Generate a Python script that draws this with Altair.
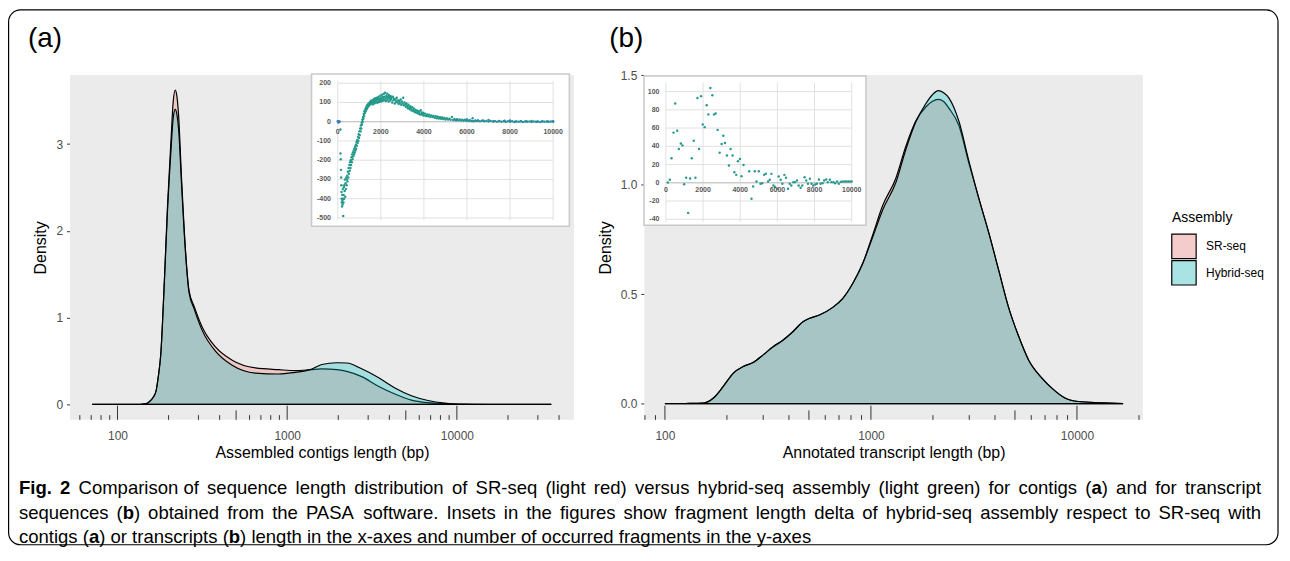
import altair as alt
import pandas as pd

# ---------------- data ----------------
ASSEMBLY = ["SR-seq", "Hybrid-seq"]
FILL = ["#F8766D", "#00BFC4"]
KEY_FILL = ["#F4CCCB", "#A9E3E3"]

# (a) density of assembled contig lengths
A_LEN = [71, 126, 148, 154, 162, 169, 174, 180, 189, 197, 207, 213, 219, 224, 229, 239, 251,
         264, 283, 316, 379, 474, 650, 891, 1117, 1368, 1600, 1959, 2244, 2748, 3443, 4315,
         5395, 6761, 8472, 10140, 15850, 36000]
A_SR = [0, 0, 0.01, 0.03, 0.08, 0.16, 0.32, 0.58, 1.43, 2.27, 3.07, 3.49, 3.62, 3.55, 3.34, 2.57,
        1.81, 1.31, 1.13, 0.89, 0.66, 0.51, 0.42, 0.40, 0.39, 0.40, 0.41, 0.40, 0.38, 0.32, 0.21,
        0.12, 0.05, 0.02, 0.008, 0.003, 0, 0]
A_HY = [0, 0, 0.01, 0.03, 0.08, 0.16, 0.32, 0.58, 1.42, 2.22, 2.95, 3.30, 3.40, 3.34, 3.18, 2.50,
        1.78, 1.29, 1.10, 0.85, 0.61, 0.45, 0.36, 0.35, 0.37, 0.40, 0.46, 0.48, 0.477, 0.41, 0.31,
        0.19, 0.10, 0.045, 0.015, 0.004, 0, 0]
A_XT = [100, 1000, 10000]
A_YT = [0, 1, 2, 3]
A_LOGT = [60, 70, 80, 90, 100, 200, 300, 400, 500, 600, 700, 800, 900, 1000, 2000, 3000, 4000,
          5000, 6000, 7000, 8000, 9000, 10000, 20000, 30000, 40000]

# (b) density of annotated transcript lengths
B_LEN = [100, 126, 154, 172, 192, 215, 240, 268, 300, 335, 374, 419, 468, 504, 562, 653, 729, 817,
         912, 1019, 1140, 1321, 1476, 1648, 1845, 1982, 2123, 2254, 2388, 2673, 2985, 3334, 3733,
         4169, 4656, 5200, 5821, 6761, 7551, 8750, 10140, 13150, 16750]
B_SR = [0, 0.001, 0.003, 0.026, 0.079, 0.14, 0.17, 0.188, 0.223, 0.26, 0.29, 0.33, 0.374, 0.39,
        0.405, 0.44, 0.48, 0.55, 0.64, 0.77, 0.905, 1.03, 1.175, 1.29, 1.355, 1.38, 1.39, 1.38,
        1.35, 1.27, 1.10, 0.94, 0.78, 0.61, 0.44, 0.31, 0.20, 0.117, 0.071, 0.026, 0.01, 0.004, 0]
B_HY = [0, 0.001, 0.003, 0.026, 0.079, 0.14, 0.17, 0.188, 0.223, 0.26, 0.29, 0.33, 0.374, 0.39,
        0.405, 0.44, 0.48, 0.55, 0.64, 0.76, 0.885, 1.01, 1.16, 1.285, 1.37, 1.41, 1.43, 1.42,
        1.397, 1.29, 1.11, 0.94, 0.78, 0.61, 0.44, 0.31, 0.20, 0.117, 0.071, 0.026, 0.01, 0.004, 0]
B_XT = [100, 1000, 10000]
B_YT = [0, 0.5, 1.0, 1.5]
B_LOGT = [80, 90, 100, 200, 300, 400, 500, 600, 700, 800, 900, 1000, 2000, 3000, 4000, 5000,
          6000, 7000, 8000, 9000, 10000, 20000]

# inset (a): fragment length delta (contigs)
IA_TEAL = [(123, -40), (128, -165), (140, -195), (150, -250), (160, -290), (170, -330), (175, -365),
           (180, -400), (190, -420), (200, -440), (210, -380), (215, -410), (225, -430), (235, -350),
           (245, -400), (255, -490), (265, -420), (275, -380), (285, -340), (295, -400), (305, -330),
           (320, -360), (335, -300), (350, -390), (365, -320), (380, -350), (395, -290), (410, -330),
           (425, -300), (440, -280), (455, -310), (470, -260), (490, -290), (505, -240), (520, -270),
           (540, -225), (555, -255), (570, -210), (590, -240), (605, -200), (620, -225), (640, -185),
           (655, -210), (670, -170), (690, -195), (705, -160), (720, -180), (740, -150), (755, -170),
           (770, -140), (790, -160), (805, -130), (820, -150), (840, -120), (855, -140), (870, -105),
           (890, -125), (905, -95), (920, -110), (940, -80), (955, -100), (970, -65), (990, -85),
           (1005, -50), (1020, -70), (1040, -35), (1060, -50), (1075, -20), (1090, -35), (1110, -5),
           (1125, -15), (1140, 10), (1160, 0), (1175, 25), (1190, 15), (1210, 40), (1225, 30),
           (1240, 55), (1260, 45), (1280, 65), (1300, 55), (1320, 75), (1340, 65), (1360, 85),
           (1380, 72), (1400, 90), (1420, 80), (1440, 95), (1460, 85), (1480, 100), (1500, 90),
           (1520, 105), (1540, 95), (1560, 110), (1580, 98), (1600, 105), (1620, 90), (1640, 112),
           (1660, 100), (1680, 118), (1700, 95), (1720, 108), (1740, 122), (1760, 100), (1780, 115),
           (1800, 105), (1820, 125), (1840, 98), (1860, 118), (1880, 110), (1900, 130), (1920, 102),
           (1940, 120), (1960, 112), (1980, 135), (2000, 105), (2020, 125), (2040, 115), (2060, 140),
           (2080, 108), (2100, 128), (2120, 118), (2140, 145), (2160, 112), (2180, 130), (2200, 150),
           (2220, 120), (2240, 108), (2260, 135), (2280, 125), (2300, 145), (2320, 115), (2340, 130),
           (2360, 105), (2380, 138), (2400, 120), (2420, 128), (2440, 110), (2460, 132), (2480, 118),
           (2500, 125), (2530, 100), (2560, 130), (2590, 112), (2620, 120), (2650, 95), (2680, 115),
           (2710, 105), (2740, 125), (2770, 100), (2800, 110), (2830, 92), (2860, 108), (2890, 98),
           (2920, 115), (2950, 88), (2980, 105), (3010, 95), (3040, 125), (3070, 85), (3100, 100),
           (3130, 90), (3160, 78), (3190, 95), (3220, 82), (3250, 70), (3280, 88), (3310, 75),
           (3340, 65), (3370, 80), (3400, 70), (3430, 58), (3460, 75), (3490, 62), (3520, 55),
           (3550, 68), (3580, 50), (3610, 60), (3640, 48), (3670, 58), (3700, 45), (3730, 55),
           (3760, 42), (3790, 52), (3820, 38), (3850, 60), (3880, 40), (3910, 48), (3940, 35),
           (3970, 45), (4000, 32), (4050, 42), (4100, 30), (4150, 38), (4200, 28), (4250, 36),
           (4300, 25), (4350, 33), (4400, 24), (4450, 30), (4500, 20), (4550, 28), (4600, 18),
           (4650, 26), (4700, 17), (4750, 24), (4800, 15), (4850, 22), (4900, 14), (4950, 20),
           (5000, 12), (5060, 18), (5120, 11), (5180, 16), (5240, 10), (5300, 25), (5360, 9),
           (5420, 14), (5480, 8), (5540, 13), (5600, 7), (5660, 12), (5720, 6), (5780, 11),
           (5840, 5), (5900, 10), (5960, 5), (6020, 9), (6080, 4), (6140, 8), (6200, 4), (6260, 18),
           (6320, 3), (6380, 7), (6440, 3), (6500, 6), (6600, 2), (6700, 5), (6800, 2), (6900, 4),
           (7000, 1), (7100, 4), (7200, 1), (7300, 3), (7400, 0), (7500, 3), (7600, 0), (7700, 2),
           (7800, -1), (7900, 2), (8000, 0), (8100, 2), (8200, -1), (8300, 1), (8400, 0), (8500, 2),
           (8600, -1), (8700, 1), (8800, 0), (8900, 1), (9000, -1), (9100, 1), (9200, 0), (9300, 1),
           (9400, -1), (9500, 1), (9600, 0), (9700, 1), (9800, 0), (9900, 1), (10000, 0)]
IA_BLUE = [(0, 2), (20, 1), (30, -2), (40, -4), (60, 3), (90, 0), (5500, 8), (6000, 12), (6250, 3),
           (6500, 6), (6750, 7), (7000, 9), (7250, 2), (7500, 4), (7750, 5), (8000, 6), (8250, 1),
           (8500, 3), (8750, 2), (9000, 4), (9250, 0), (9500, 2), (9750, 1), (10000, 3)]
IA_XT = [0, 2000, 4000, 6000, 8000, 10000]
IA_YT = [-500, -400, -300, -200, -100, 0, 100, 200]

# inset (b): fragment length delta (transcripts)
IB_PTS = [(107, 0.4), (214, 3.3), (304, 27), (411, 55), (500, 87), (607, 57), (696, 37), (804, 43),
          (893, 41), (982, -1.5), (1089, 5.5), (1196, -33), (1304, 4.7), (1393, 27), (1500, 46),
          (1589, 5.5), (1696, 93), (1786, 37), (1893, 95), (1982, 64), (2089, 61), (2196, 85),
          (2286, 75), (2393, 104), (2500, 96), (2589, 75), (2679, 76), (2786, 58), (2893, 33),
          (3000, 42.5), (3089, 51.6), (3179, 43.6), (3286, 30), (3393, 19), (3482, 37), (3589, 30),
          (3679, 11.6), (3786, 8.7), (3875, 23.6), (3982, 26), (4071, 7.3), (4179, 19.6),
          (4482, 12.7), (4607, -17.5), (4696, -4), (4786, 12.7), (4875, 1.5), (5000, 12.7),
          (5089, -1), (5179, -0.4), (5286, 8.7), (5375, 10), (5500, 1.5), (5589, 3.3), (5679, 9.8),
          (5786, -3), (5875, -4.7), (6000, -6.5), (6071, 7), (6179, 3.3), (6268, -1), (6375, 8.7),
          (6464, 5.5), (6571, -6.5), (6661, -1), (6750, -3), (6857, 0.7), (6946, 0.7), (7054, 2.5),
          (7143, -3), (7250, -5.5), (7339, -3), (7464, 6), (7554, 2.5), (7643, -1), (7750, 4.4),
          (7839, -1), (7929, -3), (8036, -1.8), (8125, -1), (8232, 3.6), (8321, -1), (8429, -0.4),
          (8518, 2.5), (8625, 3.6), (8714, 0.7), (8821, 3.3), (8911, 0.7), (9018, 0.7), (9107, -0.4),
          (9214, 1.5), (9304, -1), (9411, 1), (9500, 1.5), (9607, 1.5), (9696, 1.5), (9804, 1.5),
          (9893, 1.5), (10000, 1.5)]
IB_XT = [0, 2000, 4000, 6000, 8000, 10000]
IB_YT = [-40, -20, 0, 20, 40, 60, 80, 100]

TAGS = ["(a)", "(b)"]
X_TITLES = ["Assembled contigs length (bp)", "Annotated transcript length (bp)"]
# caption lines, **...** marks bold runs
CAPTION = [
    "**Fig. 2** Comparison of sequence length distribution of SR-seq (light red) versus hybrid-seq assembly (light green) for contigs (**a**) and for transcript",
    "sequences (**b**) obtained from the PASA software. Insets in the figures show fragment length delta of hybrid-seq assembly respect to SR-seq with",
    "contigs (**a**) or transcripts (**b**) length in the x-axes and number of occurred fragments in the y-axes",
]
JUSTIFY = [True, True, False]

# ---------------- layout (chart pixel coordinates = screen - 8) ----------------
W, H = 1280, 540
FONT = "Liberation Sans, Arial, Helvetica, sans-serif"
CAP_SIZE = 18.6
CAP_X0, CAP_X1 = 11, 1259
CAP_Y = [487, 512, 536]

P_Y0, P_Y1 = 412.5, 66.0
A_X0, A_X1 = 62.3, 568.6
A_XDOM = [10 ** (2 - (110 - A_X0) / 170.5), 10 ** (2 + (A_X1 - 110) / 170.5)]
A_YDOM = [-(P_Y0 - 397) / 87.2, (397 - P_Y1) / 87.2]
B_X0, B_X1 = 639.3, 1140.2
B_XDOM = [10 ** (2 - (660 - B_X0) / 207.0), 10 ** (2 + (B_X1 - 660) / 207.0)]
B_YDOM = [-(P_Y0 - 396.3) / 220.0, (396.3 - P_Y1) / 220.0]


def lin(domain, rng):
    return alt.Scale(type="linear", domain=domain, range=rng, nice=False, zero=False)


def logs(domain, rng):
    return alt.Scale(type="log", domain=domain, range=rng, nice=False)


one = pd.DataFrame({"k": [0]})
layers = []

# outer frame
layers.append(alt.Chart(one).mark_rect(fillOpacity=0, stroke="black", strokeWidth=1.2,
                                       cornerRadius=12)
              .encode(x=alt.value(0.6), x2=alt.value(1276), y=alt.value(0.6), y2=alt.value(538)))


def panel(x0, x1, xdom, ydom, lens, sr, hy, logt, xt, yt, yfmt, xtitle, ypad):
    xs = logs(xdom, [x0, x1])
    ys = lin(ydom, [P_Y0, P_Y1])
    out = [alt.Chart(one).mark_rect(color="#EBEBEB")
           .encode(x=alt.value(x0), x2=alt.value(x1), y=alt.value(P_Y1), y2=alt.value(P_Y0))]
    for kind, length in (("1", 14.2), ("5", 9.5), ("o", 4.7)):
        vals = [t for t in logt if (str(t)[0] == kind) or (kind == "o" and str(t)[0] not in "15")]
        out.append(alt.Chart(pd.DataFrame({"t": vals})).mark_rule(color="#333333", strokeWidth=1)
                   .encode(x=alt.X("t:Q", scale=xs, axis=None),
                           y=alt.value(P_Y0), y2=alt.value(P_Y0 - length)))
    xaxis = alt.Axis(values=xt, format="d", orient="bottom", offset=P_Y0 - H, domain=False,
                     grid=False, ticks=False, tickSize=0, labelFont=FONT, labelFontSize=12,
                     labelColor="#4D4D4D", labelPadding=11, labelFlush=False, labelOverlap=False,
                     title=xtitle, titleFont=FONT, titleFontSize=16, titleFontWeight="normal",
                     titleColor="black", titlePadding=3)
    yaxis = alt.Axis(values=yt, format=yfmt, orient="left", offset=-x0, domain=False, grid=False,
                     ticks=True, tickSize=3.5, tickColor="#333333", tickWidth=1, labelFont=FONT,
                     labelFontSize=12, labelColor="#4D4D4D", labelPadding=4, labelFlush=False,
                     title="Density", titleFont=FONT, titleFontSize=16, titleFontWeight="normal",
                     titleColor="black", titlePadding=ypad)
    for i, (name, dens) in enumerate(zip(ASSEMBLY, (sr, hy))):
        df = pd.DataFrame({"len": lens, "dens": dens, "asm": name})
        out.append(alt.Chart(df).mark_area(fillOpacity=0.3, stroke="black", strokeWidth=1.2,
                                           interpolate="monotone")
                   .encode(x=alt.X("len:Q", scale=xs, axis=xaxis if i == 0 else None),
                           y=alt.Y("dens:Q", scale=ys, axis=yaxis if i == 0 else None, stack=None),
                           y2=alt.datum(0),
                           color=alt.Color("asm:N", scale=alt.Scale(domain=ASSEMBLY, range=FILL),
                                           legend=None)))
    return out


layers += panel(A_X0, A_X1, A_XDOM, A_YDOM, A_LEN, A_SR, A_HY, A_LOGT, A_XT, A_YT, "d",
                X_TITLES[0], 7)
layers += panel(B_X0, B_X1, B_XDOM, B_YDOM, B_LEN, B_SR, B_HY, B_LOGT, B_XT, B_YT, ".1f",
                X_TITLES[1], 7)


def inset(box, xr, yr, ydom, grid_y, xt, yt, xlab_y, ylab_x, series, size):
    xs = lin([0, 10000], xr)
    ys = lin(ydom, yr)
    out = [alt.Chart(one).mark_rect(fill="white", stroke="#C9C9C9", strokeWidth=1.5)
           .encode(x=alt.value(box[0]), x2=alt.value(box[1]), y=alt.value(box[2]),
                   y2=alt.value(box[3]))]
    out.append(alt.Chart(pd.DataFrame({"v": yt})).mark_rule(color="#DDDDDD", strokeWidth=0.9)
               .encode(y=alt.Y("v:Q", scale=ys, axis=None), x=alt.value(xr[0]), x2=alt.value(xr[1])))
    out.append(alt.Chart(pd.DataFrame({"v": xt})).mark_rule(color="#DDDDDD", strokeWidth=0.9)
               .encode(x=alt.X("v:Q", scale=xs, axis=None), y=alt.value(grid_y[0]),
                       y2=alt.value(grid_y[1])))
    out.append(alt.Chart(pd.DataFrame({"v": [0]})).mark_rule(color="#BFBFBF", strokeWidth=1)
               .encode(y=alt.Y("v:Q", scale=ys, axis=None), x=alt.value(xr[0]), x2=alt.value(xr[1])))
    for pts, col in series:
        df = pd.DataFrame(pts, columns=["x", "y"])
        out.append(alt.Chart(df).mark_circle(size=size, opacity=1, color=col)
                   .encode(x=alt.X("x:Q", scale=xs, axis=None), y=alt.Y("y:Q", scale=ys, axis=None)))
    out.append(alt.Chart(pd.DataFrame({"v": xt, "lab": [str(v) for v in xt]}))
               .mark_text(font=FONT, fontSize=7, fontWeight="bold", color="#595959",
                          baseline="middle", align="center")
               .encode(x=alt.X("v:Q", scale=xs, axis=None), y=alt.value(xlab_y), text="lab:N"))
    out.append(alt.Chart(pd.DataFrame({"v": yt, "lab": [str(v) for v in yt]}))
               .mark_text(font=FONT, fontSize=7, fontWeight="bold", color="#595959",
                          baseline="middle", align="right")
               .encode(y=alt.Y("v:Q", scale=ys, axis=None), x=alt.value(ylab_x), text="lab:N"))
    return out


layers += inset((305, 564, 65, 218), [331.3, 547.7], [209.7, 74.3], [-500, 200], (72, 212),
                IA_XT, IA_YT, 123, 324.5,
                [(IA_TEAL, "#22998A"), (IA_BLUE, "#3D7DB8")], 6)
layers += inset((639, 862, 67, 217), [661, 847.7], [211, 82.7], [-40, 100], (73.7, 213.7),
                IB_XT, IB_YT, 181.3, 654.5,
                [(IB_PTS, "#28998F")], 6)

# panel tags
for tag, tx in zip(TAGS, [20, 604]):
    layers.append(alt.Chart(one).mark_text(text=tag, font=FONT, fontSize=28, align="left",
                                           baseline="alphabetic", color="black")
                  .encode(x=alt.value(tx), y=alt.value(37.5)))

# legend
layers.append(alt.Chart(one).mark_text(text="Assembly", font=FONT, fontSize=14, align="left",
                                       baseline="alphabetic", color="black")
              .encode(x=alt.value(1169.5), y=alt.value(213.7)))
leg = pd.DataFrame({"asm": ASSEMBLY, "row": [0, 1]})
row_y = lin([0, 1], [238.2, 264.8])
layers.append(alt.Chart(leg).mark_square(size=600, stroke="black", strokeWidth=1.2, opacity=1)
              .encode(x=alt.value(1181.5), y=alt.Y("row:Q", scale=row_y, axis=None),
                      fill=alt.Fill("asm:N", scale=alt.Scale(domain=ASSEMBLY, range=KEY_FILL),
                                    legend=None)))
layers.append(alt.Chart(leg).mark_text(font=FONT, fontSize=12, align="left", baseline="middle",
                                       color="black")
              .encode(x=alt.value(1203.7), y=alt.Y("row:Q", scale=row_y, axis=None),
                      text="asm:N"))

# ---------------- caption: justified text laid out with Arial/Liberation metrics ----------------
REG = {" ": 278, "(": 333, ")": 333, ",": 278, "-": 333, ".": 278, "2": 556,
       "A": 667, "F": 611, "I": 278, "P": 667, "R": 722, "S": 667,
       "a": 556, "b": 556, "c": 500, "d": 556, "e": 556, "f": 278, "g": 556, "h": 556, "i": 222,
       "j": 222, "k": 500, "l": 222, "m": 833, "n": 556, "o": 556, "p": 556, "q": 556, "r": 333,
       "s": 500, "t": 278, "u": 556, "v": 500, "w": 722, "x": 500, "y": 500, "z": 500}
BOLD = {" ": 278, ".": 278, "2": 556, "F": 611, "a": 556, "b": 611, "g": 611, "i": 278}


def text_w(s, bold):
    tab = BOLD if bold else REG
    return sum(tab.get(ch, 556) for ch in s) / 1000.0 * CAP_SIZE


def parse(line):
    words = [[]]
    for i, part in enumerate(line.split("**")):
        bold = i % 2 == 1
        for j, chunk in enumerate(part.split(" ")):
            if j > 0:
                words.append([])
            if chunk:
                words[-1].append((chunk, bold))
    return [w for w in words if w]


rows = []
for line, y_, just in zip(CAPTION, CAP_Y, JUSTIFY):
    words = parse(line)
    widths = [sum(text_w(c, b) for c, b in w) for w in words]
    gap = text_w(" ", False)
    if just:
        gap = (CAP_X1 - CAP_X0 - sum(widths)) / (len(words) - 1)
    x_ = CAP_X0
    for w, ww in zip(words, widths):
        xx = x_
        for c, b in w:
            rows.append({"txt": c, "px": xx, "py": y_, "bold": b})
            xx += text_w(c, b)
        x_ += ww + gap
cap = pd.DataFrame(rows)
px_scale = lin([0, W], [0, W])
py_scale = lin([0, H], [0, H])
for b in (False, True):
    layers.append(alt.Chart(cap[cap["bold"] == b]).mark_text(
        font=FONT, fontSize=CAP_SIZE, fontWeight="bold" if b else "normal", align="left",
        baseline="alphabetic", color="black")
        .encode(x=alt.X("px:Q", scale=px_scale, axis=None),
                y=alt.Y("py:Q", scale=py_scale, axis=None), text="txt:N"))

chart = (alt.layer(*layers)
         .resolve_scale(x="independent", y="independent", color="independent", fill="independent")
         .properties(width=W, height=H, padding=0,
                     autosize=alt.AutoSizeParams(type="none"))
         .configure_view(stroke=None))

chart.save("out.html", embed_options={"renderer": "svg", "actions": False})
